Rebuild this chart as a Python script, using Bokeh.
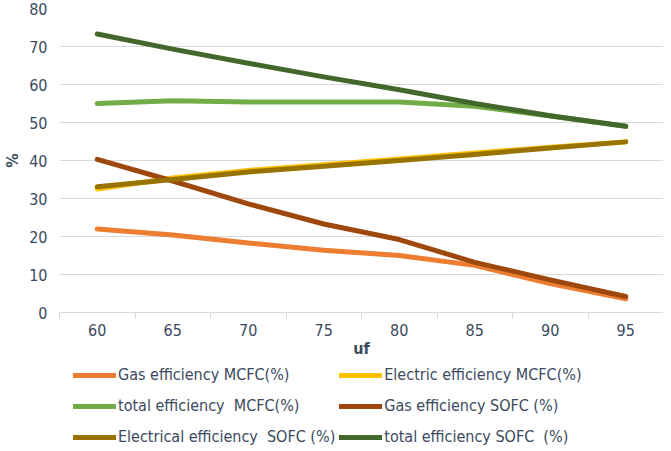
from bokeh.plotting import figure
from bokeh.layouts import column
from bokeh.models import FixedTicker, Legend, LegendItem, Range1d
from bokeh.embed import file_html
from bokeh.resources import INLINE

uf = [60, 65, 70, 75, 80, 85, 90, 95]
gas_mcfc = [22.0, 20.4, 18.3, 16.4, 15.0, 12.4, 7.6, 3.6]
elec_mcfc = [32.5, 35.4, 37.4, 38.9, 40.4, 42.0, 43.5, 44.9]
total_mcfc = [55.0, 55.7, 55.4, 55.4, 55.4, 54.3, 51.7, 49.0]
gas_sofc = [40.3, 34.6, 28.6, 23.3, 19.2, 13.2, 8.6, 4.2]
elec_sofc = [33.1, 35.0, 37.0, 38.5, 40.0, 41.6, 43.3, 44.9]
total_sofc = [73.3, 69.3, 65.6, 62.0, 58.6, 55.0, 51.8, 49.0]
y_ticks = [0, 10, 20, 30, 40, 50, 60, 70, 80]

series = [
    ("Gas efficiency MCFC(%)", gas_mcfc, "#ED7D31"),
    ("Electric efficiency MCFC(%)", elec_mcfc, "#FFC000"),
    ("total efficiency  MCFC(%)", total_mcfc, "#70AD47"),
    ("Gas efficiency SOFC (%)", gas_sofc, "#9E480E"),
    ("Electrical efficiency  SOFC (%)", elec_sofc, "#997300"),
    ("total efficiency SOFC  (%)", total_sofc, "#43682B"),
]

FONT = "DejaVu Sans Condensed"
TXT = "#3B4A5E"
FS = "16px"
W = 663

# ---------- main chart ----------
p = figure(width=W, height=360, output_backend="svg", toolbar_location=None,
           x_range=Range1d(57.5, 97.5), y_range=Range1d(0, 80),
           min_border_left=52, min_border_right=0, min_border_top=8, min_border_bottom=0,
           background_fill_color="white", border_fill_color="white")
p.outline_line_color = None

for label, ys, col in series:
    p.line(uf, ys, line_color=col, line_width=5, line_cap="round", line_join="round")

p.xgrid.grid_line_color = None
p.ygrid.grid_line_color = "#D9D9D9"
p.ygrid.ticker = FixedTicker(ticks=y_ticks)

ya = p.yaxis[0]
ya.ticker = FixedTicker(ticks=y_ticks)
ya.axis_line_color = None
ya.major_tick_line_color = None
ya.minor_tick_line_color = None
ya.major_tick_out = 0
ya.major_tick_in = 0
ya.major_label_standoff = 12
ya.major_label_text_font = FONT
ya.major_label_text_font_size = FS
ya.major_label_text_color = TXT
ya.axis_label = "%"
ya.axis_label_text_font = FONT
ya.axis_label_text_font_size = FS
ya.axis_label_text_font_style = "bold"
ya.axis_label_text_color = TXT
ya.axis_label_standoff = 4

xa = p.xaxis[0]
xa.ticker = FixedTicker(ticks=uf, minor_ticks=[57.5 + 5 * i for i in range(9)])
xa.axis_line_color = "#D9D9D9"
xa.major_tick_line_color = None
xa.major_tick_out = 0
xa.major_tick_in = 0
xa.minor_tick_line_color = "#D9D9D9"
xa.minor_tick_out = 6
xa.minor_tick_in = 0
xa.major_label_standoff = 5
xa.major_label_text_font = FONT
xa.major_label_text_font_size = FS
xa.major_label_text_color = TXT
xa.axis_label = "uf"
xa.axis_label_text_font = FONT
xa.axis_label_text_font_size = FS
xa.axis_label_text_font_style = "bold"
xa.axis_label_text_color = TXT
xa.axis_label_standoff = 0

# ---------- legend strip ----------
lg = figure(width=W, height=90, output_backend="svg", toolbar_location=None,
            x_range=Range1d(57.5, 97.5), y_range=Range1d(0, 80),
            x_axis_location=None, y_axis_location=None, min_border=0,
            background_fill_color="white", border_fill_color="white")
lg.outline_line_color = None
lg.grid.visible = False

items = []
for label, ys, col in series:
    r = lg.line(uf, ys, line_color=col, line_width=5, line_cap="round", visible=False)
    items.append(LegendItem(label=label, renderers=[r]))

legend = Legend(items=items, orientation="horizontal", ncols=2, location=(14, 0),
                border_line_color=None, background_fill_alpha=0,
                inactive_fill_alpha=0,
                label_text_font=FONT, label_text_font_size=FS, label_text_color=TXT,
                glyph_width=43, glyph_height=20, label_standoff=2, spacing=4,
                padding=0, margin=0, label_height=27, click_policy="none")
lg.add_layout(legend, "center")

layout = column(p, lg, spacing=0)
open("out.html", "w").write(file_html(layout, INLINE))
